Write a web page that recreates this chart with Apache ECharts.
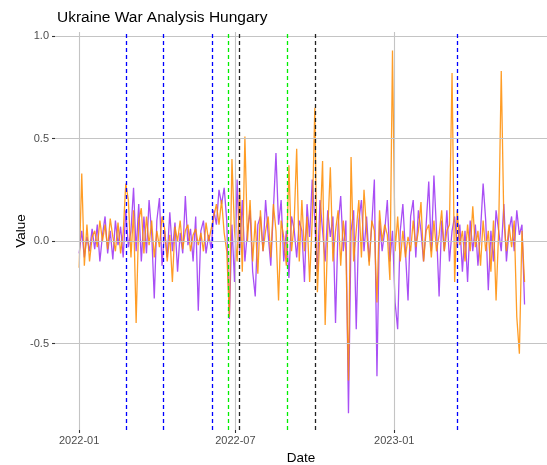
<!DOCTYPE html>
<html>
<head>
<meta charset="utf-8">
<title>Ukraine War Analysis Hungary</title>
<script src="https://cdn.jsdelivr.net/npm/echarts@6/dist/echarts.min.js"></script>
<style>
  html, body { margin: 0; height: 100%; background: #fff; }
  #main { width: 547px; height: 465px; }
</style>
</head>
<body>
<div id="main"></div>
<script>
// observations every 3 days from the start date
var startDate = '2022-01-01';
var stepDays = 3;

var purpleVals = [
  -0.06, 0.05, -0.08, 0.02, -0.05, 0.06, -0.04, 0.08, -0.10, 0.03,
  0.12, -0.06, 0.05, -0.09, 0.10, -0.02, 0.07, -0.08, 0.15, -0.03,
  0.05, 0.26, -0.05, 0.18, -0.10, 0.12, -0.06, 0.20, 0.04, -0.28,
  0.10, 0.21, -0.12, 0.05, -0.08, 0.14, -0.05, 0.09, -0.15, 0.04,
  -0.06, 0.22, -0.02, 0.06, -0.10, 0.12, -0.34, 0.05, 0.10, -0.06,
  0.03, -0.04, 0.15, 0.08, 0.25, 0.18, 0.26, 0.10, -0.38, 0.08,
  -0.20, 0.30, -0.05, 0.20, -0.10, 0.05, 0.15, -0.15, -0.27, 0.08,
  0.12, -0.05, 0.20, 0.03, -0.12, 0.15, 0.43, 0.08, 0.20, -0.10,
  0.05, -0.18, 0.12, 0.06, -0.08, 0.10, 0.05, -0.20, 0.18, 0.02,
  0.30, 0.10, -0.15, 0.20, 0.05, -0.10, 0.15, 0.02, 0.12, -0.40,
  0.08, 0.22, -0.05, 0.10, -0.84, 0.05, 0.15, -0.43, 0.10, 0.20,
  -0.05, 0.12, -0.10, 0.08, 0.30, -0.66, 0.10, -0.05, 0.05, 0.20,
  -0.10, 0.05, -0.30, -0.43, 0.05, 0.18, -0.05, -0.29, 0.12, 0.20,
  -0.08, 0.15, 0.05, -0.10, 0.08, 0.29, -0.05, 0.32, 0.05, -0.27,
  0.10, -0.05, 0.15, -0.10, 0.05, 0.12, -0.03, 0.08, -0.15, 0.05,
  -0.20, 0.10, -0.05, 0.08, -0.12, 0.05, 0.28, 0.10, -0.24, 0.05,
  -0.10, 0.15, 0.05, -0.05, 0.18, -0.10, 0.05, 0.12, -0.05, 0.15,
  0.03, 0.08, -0.31
];

var orangeVals = [
  -0.13, 0.33, -0.12, 0.08, -0.10, 0.02, 0.05, -0.03, 0.10, 0.00,
  0.08, -0.04, 0.11, 0.02, -0.05, 0.09, -0.06, 0.04, 0.28, 0.20,
  -0.08, 0.15, -0.40, 0.10, 0.16, -0.06, 0.12, -0.02, 0.10, -0.08,
  0.05, -0.03, 0.12, 0.06, -0.10, 0.03, -0.20, 0.07, 0.00, 0.10,
  -0.04, 0.05, 0.08, -0.05, 0.03, 0.06, -0.02, 0.04, -0.05, 0.09,
  0.00, 0.06, 0.12, 0.18, 0.08, 0.20, 0.04, -0.05, -0.37, 0.40,
  0.05, -0.10, 0.25, -0.15, 0.51, 0.00, 0.20, -0.10, 0.10, -0.16,
  0.15, -0.05, 0.05, 0.12, -0.08, 0.18, 0.05, -0.29, 0.10, 0.02,
  -0.12, 0.37, -0.05, 0.08, 0.45, -0.10, 0.20, -0.05, 0.12, -0.20,
  0.10, 0.65, -0.25, 0.05, 0.39, -0.41, 0.05, 0.36, -0.10, 0.05,
  0.15, -0.12, 0.10, -0.05, -0.68, 0.41, -0.10, 0.05, 0.20, -0.08,
  0.25, 0.05, -0.12, 0.10, 0.05, -0.30, 0.15, 0.00, 0.08, 0.03,
  -0.19, 0.93, -0.05, 0.12, -0.10, 0.05, -0.08, 0.02, -0.05, 0.10,
  -0.03, 0.05, 0.19, -0.10, 0.05, 0.08, -0.08, 0.10, -0.05, 0.03,
  0.15, -0.05, 0.05, 0.08, 0.82, -0.20, 0.15, -0.02, 0.05, -0.10,
  0.08, -0.05, 0.17, -0.03, 0.05, -0.12, 0.10, -0.05, 0.05, -0.15,
  0.10, -0.29, 0.05, 0.83, 0.10, -0.05, 0.08, -0.03, 0.10, -0.37,
  -0.55, 0.05, -0.20
];

var xTickDates = ['2022-01-01', '2022-07-01', '2023-01-01'];
var xTickLabels = ['2022-01', '2022-07', '2023-01'];
var yTicks = [-0.5, 0, 0.5, 1.0];
var yTickLabels = ['-0.5', '0.0', '0.5', '1.0'];

var blueEvents = ['2022-02-24', '2022-04-08', '2022-06-04', '2023-03-15'];
var greenEvents = ['2022-06-23', '2022-08-30'];
var blackEvents = ['2022-07-05', '2022-10-01'];

var DAY = 86400000;
function dayNum(s) {
  return Math.round((Date.parse(s) - Date.parse(startDate)) / DAY);
}

var purpleData = [];
var orangeData = [];
for (var i = 0; i < purpleVals.length; i++) {
  purpleData.push([i * stepDays, purpleVals[i]]);
  orangeData.push([i * stepDays, orangeVals[i]]);
}

var xTicks = xTickDates.map(dayNum);

var gridLines = [];
xTicks.forEach(function (d) { gridLines.push({ xAxis: d }); });
yTicks.forEach(function (v) { gridLines.push({ yAxis: v }); });

var eventLines = [];
function addEvents(list, color) {
  list.forEach(function (s) {
    eventLines.push({ xAxis: dayNum(s), lineStyle: { color: color } });
  });
}
addEvents(blueEvents, '#0000ff');
addEvents(greenEvents, '#00ee00');
addEvents(blackEvents, '#222222');

var font = 'Liberation Sans, Arial, sans-serif';

var option = {
  animation: false,
  title: {
    text: 'Ukraine War Analysis Hungary',
    left: 52,
    top: 5,
    textStyle: { fontSize: 15.5, fontWeight: 'normal', color: '#000', fontFamily: font }
  },
  grid: { left: 55, right: 0, top: 32, bottom: 35, outerBoundsMode: 'none' },
  xAxis: {
    type: 'value',
    min: -28,
    max: 542,
    name: 'Date',
    nameLocation: 'middle',
    nameGap: 21,
    nameMoveOverlap: false,
    nameTextStyle: { fontSize: 13.5, color: '#000', fontFamily: font },
    axisLine: { show: true, onZero: false, lineStyle: { color: 'rgba(255,255,255,0)' } },
    splitLine: { show: false },
    axisTick: {
      show: true, inside: false, customValues: xTicks, length: 3,
      lineStyle: { color: '#333', width: 1.1 }
    },
    axisLabel: {
      customValues: xTicks,
      margin: 5,
      color: '#4d4d4d',
      fontSize: 11,
      fontFamily: font,
      formatter: function (v) {
        var k = xTicks.indexOf(v);
        return k >= 0 ? xTickLabels[k] : '';
      }
    }
  },
  yAxis: {
    type: 'value',
    min: -0.922,
    max: 1.02,
    name: 'Value',
    nameLocation: 'middle',
    nameRotate: 90,
    nameGap: 27,
    nameMoveOverlap: false,
    nameTextStyle: { fontSize: 13.5, color: '#000', fontFamily: font },
    axisLine: { show: true, onZero: false, lineStyle: { color: 'rgba(255,255,255,0)' } },
    splitLine: { show: false },
    axisTick: {
      show: true, inside: false, customValues: yTicks, length: 3,
      lineStyle: { color: '#333', width: 1.1 }
    },
    axisLabel: {
      customValues: yTicks,
      margin: 6,
      color: '#4d4d4d',
      fontSize: 11,
      fontFamily: font,
      formatter: function (v) {
        var k = yTicks.indexOf(v);
        return k >= 0 ? yTickLabels[k] : '';
      }
    }
  },
  series: [
    {
      name: 'grid',
      type: 'line',
      data: [],
      z: 0,
      markLine: {
        silent: true,
        symbol: 'none',
        label: { show: false },
        lineStyle: { color: '#c4c4c4', width: 1.1, type: 'solid' },
        data: gridLines
      }
    },
    {
      name: 'purple',
      type: 'line',
      data: purpleData,
      showSymbol: false,
      z: 2,
      lineStyle: { color: '#a94ff5', width: 1.3 },
      itemStyle: { color: '#a94ff5' }
    },
    {
      name: 'orange',
      type: 'line',
      data: orangeData,
      showSymbol: false,
      z: 3,
      lineStyle: { color: '#ff8c00', width: 1.3, opacity: 0.85 },
      itemStyle: { color: '#ff8c00' }
    },
    {
      name: 'events',
      type: 'line',
      data: [],
      z: 5,
      markLine: {
        silent: true,
        symbol: 'none',
        label: { show: false },
        lineStyle: { width: 1.3, type: [4, 3] },
        data: eventLines
      }
    }
  ]
};

var chart = echarts.init(document.getElementById('main'));
chart.setOption(option);
</script>
</body>
</html>
